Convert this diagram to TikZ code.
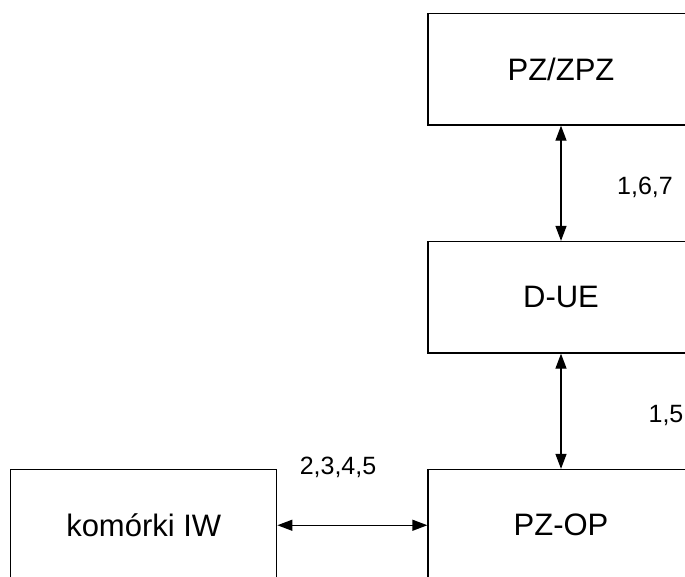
\documentclass[tikz,border=0pt]{standalone}
\usepackage{fontspec}
\setmainfont{Liberation Sans}
\usetikzlibrary{arrows.meta}
\tikzset{
  blk/.style={draw=black, line width=1.3pt, minimum width=266pt, minimum height=111.5pt, inner sep=0pt, font=\fontsize{31}{36}\selectfont},
  lbl/.style={inner sep=0pt, font=\fontsize{25}{30}\selectfont},
  conn/.style={line width=1.3pt, {Triangle[length=15pt,width=11pt]}-{Triangle[length=15pt,width=11pt]}}
}
\begin{document}
\begin{tikzpicture}[x=1pt,y=-1pt]
\useasboundingbox (0,0) rectangle (685,576);
\clip (0,0) rectangle (685,576);
\fill[white] (0,0) rectangle (685,576);
\node[blk] (pz) at (561,69.25) {PZ/ZPZ};
\node[blk] (due) at (561,297.25) {D-UE};
\node[blk] (pzop) at (561,525.25) {PZ-OP};
\node[blk] (kom) at (143.75,525.25) {komórki IW};
\draw[conn] (pz.south) -- (due.north);
\draw[conn] (due.south) -- (pzop.north);
\draw[conn] (kom.east) -- (pzop.west);
\node[lbl] (l167) at (645,187.5) {1,6,7};
\node[lbl] (l15) at (666,415) {1,5};
\node[lbl] (l2345) at (338,467) {2,3,4,5};
\end{tikzpicture}
\end{document}
